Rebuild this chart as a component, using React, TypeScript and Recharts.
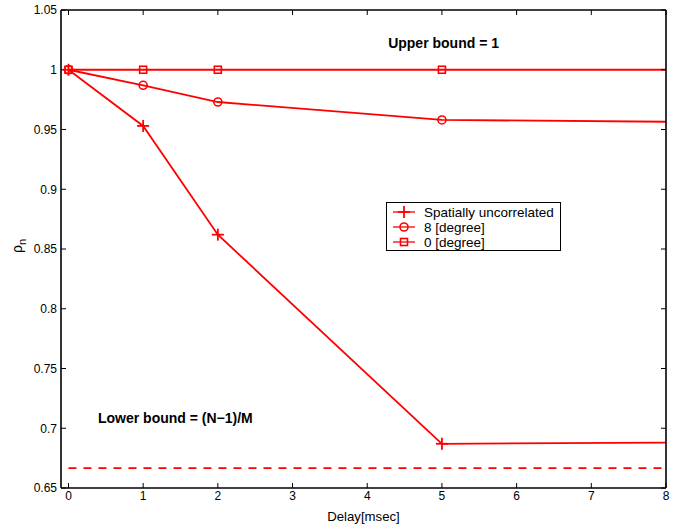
import React from 'react';
import { LineChart, Line, XAxis, YAxis, ReferenceLine, ReferenceDot, Legend } from 'recharts';

const delays = [0, 1, 2, 5, 8];
const uncorrelated = [1, 0.953, 0.862, 0.687, 0.688];
const deg8 = [1, 0.987, 0.973, 0.958, 0.9565];
const deg0 = [1, 1, 1, 1, 1];
const markerDelays = [0, 1, 2, 5];
const lowerBound = 0.6667;
const xTicks = [0, 1, 2, 3, 4, 5, 6, 7, 8];
const yTicks = [0.65, 0.7, 0.75, 0.8, 0.85, 0.9, 0.95, 1, 1.05];
const seriesNames = ['Spatially uncorrelated', '8 [degree]', '0 [degree]'];
const upperText = 'Upper bound = 1';
const lowerText = 'Lower bound = (N\u22121)/M';

const data = delays.map((d, i) => ({ delay: d, unc: uncorrelated[i], d8: deg8[i], d0: deg0[i] }));

const RED = '#ff0000';
const FONT = '"Liberation Sans", Arial, Helvetica, sans-serif';

const Marker = ({ kind, cx, cy }: { kind: string; cx: number; cy: number }) => {
  if (kind === 'plus') {
    return (
      <g>
        <line x1={cx - 6} y1={cy} x2={cx + 6} y2={cy} stroke={RED} strokeWidth={1.8} />
        <line x1={cx} y1={cy - 6} x2={cx} y2={cy + 6} stroke={RED} strokeWidth={1.8} />
      </g>
    );
  }
  if (kind === 'circle') {
    return <circle cx={cx} cy={cy} r={4} fill="none" stroke={RED} strokeWidth={1.6} />;
  }
  return <rect x={cx - 3.5} y={cy - 3.5} width={7} height={7} fill="none" stroke={RED} strokeWidth={1.6} />;
};

const makeDot = (kind: string) => (props: any) => {
  const { cx, cy, payload, index } = props;
  if (!markerDelays.includes(payload.delay)) return <g key={`e-${kind}-${index}`} />;
  return (
    <g key={`m-${kind}-${index}`}>
      <Marker kind={kind} cx={cx} cy={cy} />
    </g>
  );
};

const EmptyTick = () => <g />;

const kinds = ['plus', 'circle', 'square'];

const LegendBox = () => (
  <svg width={176} height={50} style={{ display: 'block' }}>
    <rect x={0.5} y={0.5} width={174} height={48} fill="#fff" stroke="#000" strokeWidth={1} />
    {seriesNames.map((name, i) => {
      const cy = 10 + i * 15;
      return (
        <g key={name}>
          <line x1={7} y1={cy} x2={29} y2={cy} stroke={RED} strokeWidth={1.3} />
          <Marker kind={kinds[i]} cx={18} cy={cy} />
          <text x={38} y={cy} dominantBaseline="central" fontFamily={FONT} fontSize={13.5} fill="#000">
            {name}
          </text>
        </g>
      );
    })}
  </svg>
);

const YLabel = (props: any) => {
  const x = 22;
  const y = 246;
  return (
    <text x={x} y={y} transform={`rotate(-90 ${x} ${y})`} textAnchor="middle" fontFamily={FONT} fontSize={14} fill="#000">
      ρ<tspan fontSize={11} dy={4}>n</tspan>
    </text>
  );
};

const XLabel = (props: any) => {
  const vb = props.viewBox || { x: 61, y: 488, width: 605 };
  return (
    <text x={vb.x + vb.width / 2} y={vb.y + 33} textAnchor="middle" fontFamily={FONT} fontSize={13.2} fill="#000">
      Delay[msec]
    </text>
  );
};

const textShape = (label: string) => (props: any) => (
  <text x={props.cx} y={props.cy} dominantBaseline="central" fontFamily={FONT} fontSize={14} fontWeight="bold" fill="#000">
    {label}
  </text>
);

const tickStyle = { fontFamily: FONT, fontSize: 12, fill: '#000' };

export default function App() {
  return (
    <div style={{ position: 'absolute', left: 0, top: 0, width: 691, height: 527, background: '#fff' }}>
      <LineChart width={691} height={527} data={data} margin={{ top: 9, right: 24, bottom: 9, left: 0 }}>
        <XAxis
          xAxisId="bottom"
          dataKey="delay"
          type="number"
          domain={[-0.1, 8]}
          ticks={xTicks}
          allowDataOverflow
          height={30}
          tickSize={-5}
          tickMargin={8}
          tick={tickStyle}
          axisLine={{ stroke: '#000', strokeWidth: 1.6 }}
          tickLine={{ stroke: '#000', strokeWidth: 1 }}
          label={<XLabel />}
        />
        <XAxis
          xAxisId="top"
          orientation="top"
          dataKey="delay"
          type="number"
          domain={[-0.1, 8]}
          ticks={xTicks}
          allowDataOverflow
          height={1}
          tickSize={-5}
          tick={<EmptyTick />}
          axisLine={{ stroke: '#000', strokeWidth: 1.6 }}
          tickLine={{ stroke: '#000', strokeWidth: 1 }}
        />
        <YAxis
          yAxisId="left"
          type="number"
          domain={[0.65, 1.05]}
          ticks={yTicks}
          allowDataOverflow
          width={61}
          tickSize={-5}
          tickMargin={9}
          tick={tickStyle}
          axisLine={{ stroke: '#000', strokeWidth: 1.6 }}
          tickLine={{ stroke: '#000', strokeWidth: 1 }}
          label={<YLabel />}
        />
        <YAxis
          yAxisId="right"
          orientation="right"
          type="number"
          domain={[0.65, 1.05]}
          ticks={yTicks}
          allowDataOverflow
          width={1}
          tickSize={-5}
          tick={<EmptyTick />}
          axisLine={{ stroke: '#000', strokeWidth: 1.6 }}
          tickLine={{ stroke: '#000', strokeWidth: 1 }}
        />
        <ReferenceLine
          xAxisId="bottom"
          yAxisId="left"
          segment={[{ x: 0, y: lowerBound }, { x: 8, y: lowerBound }]}
          stroke={RED}
          strokeWidth={1.8}
          strokeDasharray="8 7"
          ifOverflow="visible"
        />
        <Line xAxisId="bottom" yAxisId="left" dataKey="unc" name={seriesNames[0]} stroke={RED} strokeWidth={1.8} dot={makeDot('plus')} activeDot={false} isAnimationActive={false} type="linear" />
        <Line xAxisId="bottom" yAxisId="left" dataKey="d8" name={seriesNames[1]} stroke={RED} strokeWidth={1.8} dot={makeDot('circle')} activeDot={false} isAnimationActive={false} type="linear" />
        <Line xAxisId="bottom" yAxisId="left" dataKey="d0" name={seriesNames[2]} stroke={RED} strokeWidth={1.8} dot={makeDot('square')} activeDot={false} isAnimationActive={false} type="linear" />
        <ReferenceDot xAxisId="bottom" yAxisId="left" x={4.28} y={1.0225} r={0} shape={textShape(upperText)} ifOverflow="visible" />
        <ReferenceDot xAxisId="bottom" yAxisId="left" x={0.395} y={0.7088} r={0} shape={textShape(lowerText)} ifOverflow="visible" />
        <Legend
          layout="vertical"
          align="center"
          verticalAlign="middle"
          content={() => <LegendBox />}
          wrapperStyle={{ left: 386, top: 202, width: 176, height: 50 }}
        />
      </LineChart>
    </div>
  );
}
